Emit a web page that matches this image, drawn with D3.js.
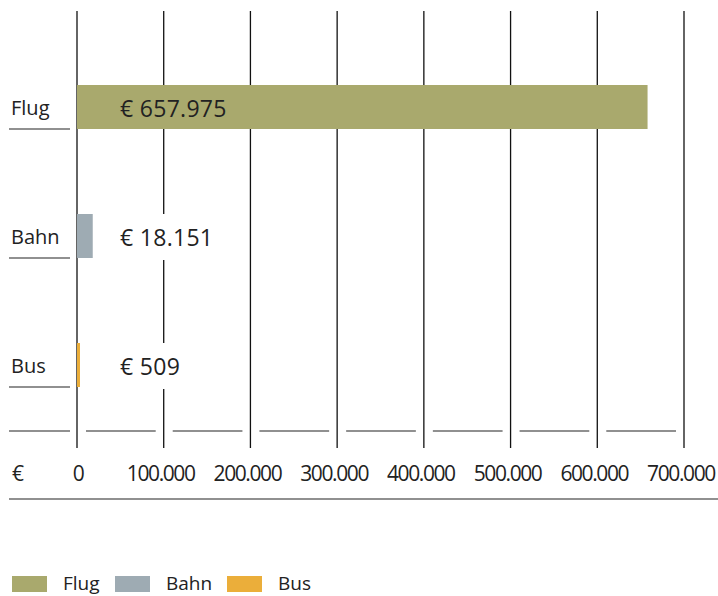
<!DOCTYPE html>
<html>
<head>
<meta charset="utf-8">
<script src="https://cdn.jsdelivr.net/npm/d3@7"></script>
<style>
  body { margin: 0; background: #fff; }
  svg { display: block; font-family: "Open Sans", sans-serif; }
</style>
</head>
<body>
<div id="chart"></div>
<script>
// data
const categories = ["Flug", "Bahn", "Bus"];
const values = [657975, 18151, 509];
const tickValues = [0, 100000, 200000, 300000, 400000, 500000, 600000, 700000];

const colors = {
    Flug: "#a9a96d",
    Bahn: "#9eabb3",
    Bus:  "#ebae3a"
};

const width = 718, height = 596;

const de = d3.formatLocale({ decimal: ",", thousands: ".", grouping: [3], currency: ["€ ", ""] });
const fmtTick = de.format(",");
const fmtValue = de.format("$,");

const svg = d3.select("#chart").append("svg")
    .attr("width", width)
    .attr("height", height);

const x = d3.scaleLinear()
    .domain([0, 700000])
    .range([77, 684]);

const y = d3.scaleBand()
    .domain(categories)
    .range([0, 387]);

const barH = 44;
const gridTop = 11, gridBottom = 448, axisY = 431;

// Gridlines
svg.append("g")
    .selectAll("line")
    .data(tickValues)
    .join("line")
    .attr("x1", d => x(d))
    .attr("x2", d => x(d))
    .attr("y1", gridTop)
    .attr("y2", gridBottom)
    .attr("stroke", "#111")
    .attr("stroke-width", 1.3);

// Row underlines under category names
svg.append("g")
    .selectAll("line")
    .data(categories)
    .join("line")
    .attr("x1", 9)
    .attr("x2", x(0) - 7)
    .attr("y1", d => y(d) + y.bandwidth())
    .attr("y2", d => y(d) + y.bandwidth())
    .attr("stroke", "#6b6b6b")
    .attr("stroke-width", 1.3);

// Segmented bottom line between gridlines
const segs = [[9, x(0) - 7]].concat(
    d3.pairs(tickValues).map(([a, b]) => [x(a) + 9, x(b) - 8])
);
svg.append("g")
    .selectAll("line")
    .data(segs)
    .join("line")
    .attr("x1", d => d[0])
    .attr("x2", d => d[1])
    .attr("y1", axisY)
    .attr("y2", axisY)
    .attr("stroke", "#6b6b6b")
    .attr("stroke-width", 1.3);

// Bars
const rows = categories.map((c, i) => ({ cat: c, value: values[i] }));

svg.append("g")
    .selectAll("rect")
    .data(rows)
    .join("rect")
    .attr("x", x(0))
    .attr("y", d => y(d.cat) + y.bandwidth() - barH)
    .attr("width", d => Math.max(x(d.value) - x(0), 3))
    .attr("height", barH)
    .attr("fill", d => colors[d.cat]);

// Value labels (white box where the bar does not reach)
const labelX = 120;
const labels = svg.append("g")
    .selectAll("g")
    .data(rows)
    .join("g");

labels.filter(d => x(d.value) < labelX)
    .append("rect")
    .attr("x", labelX - 4)
    .attr("y", d => y(d.cat) + y.bandwidth() - barH)
    .attr("width", 104)
    .attr("height", barH + 2)
    .attr("fill", "#fff");

labels.append("text")
    .attr("x", labelX)
    .attr("y", d => y(d.cat) + y.bandwidth() - 12.5)
    .attr("font-size", 23)
    .attr("letter-spacing", "0.3px")
    .attr("fill", "#222")
    .text(d => fmtValue(d.value));

// Category names
svg.append("g")
    .selectAll("text")
    .data(categories)
    .join("text")
    .attr("x", 11)
    .attr("y", d => y(d) + y.bandwidth() - 14)
    .attr("font-size", 20)
    .attr("fill", "#222")
    .text(d => d);

// Tick labels
const ticks = svg.append("g")
    .attr("font-size", 21)
    .attr("fill", "#222")
    .attr("letter-spacing", "-1.4px");

ticks.append("text")
    .attr("x", 12)
    .attr("y", 481)
    .text("€");

ticks.selectAll("text.tick")
    .data(tickValues)
    .join("text")
    .attr("class", "tick")
    .attr("x", d => x(d) - (d === 0 ? -1 : 3))
    .attr("y", 481)
    .attr("text-anchor", "middle")
    .text(d => fmtTick(d));

// Bottom rule
svg.append("line")
    .attr("x1", 9)
    .attr("x2", width)
    .attr("y1", 499)
    .attr("y2", 499)
    .attr("stroke", "#6b6b6b")
    .attr("stroke-width", 1.3);

// Legend
const legendX = [12, 115, 227];
const legend = svg.append("g")
    .selectAll("g")
    .data(categories)
    .join("g")
    .attr("transform", (d, i) => `translate(${legendX[i]}, 576)`);

legend.append("rect")
    .attr("width", 35)
    .attr("height", 16)
    .attr("fill", d => colors[d]);

legend.append("text")
    .attr("x", 51)
    .attr("y", 14)
    .attr("font-size", 19)
    .attr("fill", "#222")
    .text(d => d);
</script>
</body>
</html>
